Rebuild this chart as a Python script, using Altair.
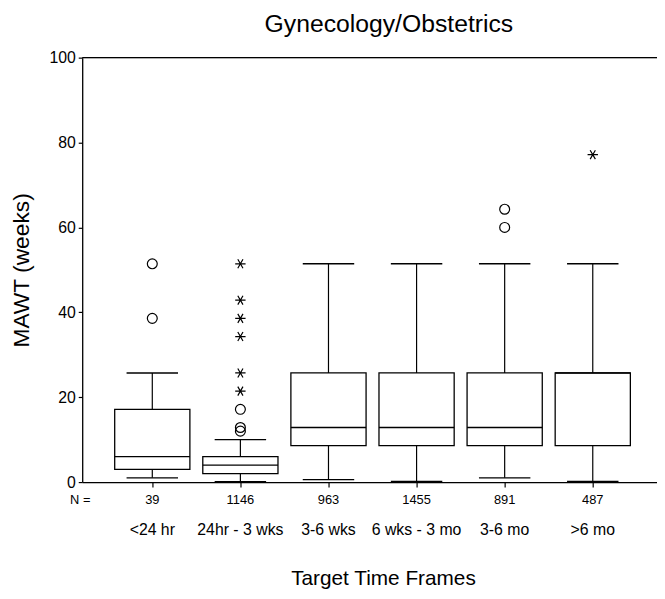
import altair as alt
import pandas as pd

# ---- data ----
categories = ["<24 hr", "24hr - 3 wks", "3-6 wks", "6 wks - 3 mo", "3-6 mo", ">6 mo"]
n_counts = [39, 1146, 963, 1455, 891, 487]
whisker_low = [1.0, 0.1, 0.57, 0.14, 1.0, 0.14]
q1 = [3.0, 2.0, 8.57, 8.57, 8.57, 8.57]
median = [6.0, 4.0, 12.86, 12.86, 12.86, 25.71]
q3 = [17.14, 6.0, 25.71, 25.71, 25.71, 25.71]
whisker_high = [25.71, 10.0, 51.43, 51.43, 51.43, 51.43]

outlier_group = [1, 1, 2, 2, 2, 2, 2, 2, 2, 2, 2, 5, 5, 6]
outlier_value = [38.57, 51.43, 12.0, 12.86, 17.14, 21.43, 25.71, 34.29, 38.57, 42.86, 51.43, 60.0, 64.29, 77.14]
outlier_kind = ["outlier", "outlier", "outlier", "outlier", "outlier", "extreme", "extreme",
                "extreme", "extreme", "extreme", "extreme", "outlier", "outlier", "extreme"]

y_ticks = [0, 20, 40, 60, 80, 100]
chart_title = "Gynecology/Obstetrics"

# ---- tables ----
pos = list(range(1, len(categories) + 1))
boxes = pd.DataFrame({
    "pos": pos, "cat": categories, "n": n_counts,
    "lo": whisker_low, "q1": q1, "med": median, "q3": q3, "hi": whisker_high,
})
outs = pd.DataFrame({"pos": outlier_group, "value": outlier_value, "kind": outlier_kind})

W, H = 581, 429
FONT = "Liberation Sans"
STAR = "M-1,0L1,0M-0.5,-0.866L0.5,0.866M-0.5,0.866L0.5,-0.866"

xs = alt.Scale(domain=[0.2605, 6.673], nice=False, zero=False)
ys = alt.Scale(domain=[0, 100], nice=False, zero=True)

x_axis = alt.Axis(
    values=pos, labels=False, ticks=True, tickSize=5, tickWidth=1.2, tickColor="black",
    domainColor="black", domainWidth=1.3, grid=False,
    title="Target Time Frames", titleFont=FONT, titleFontSize=21, titleFontWeight="normal",
    titleColor="black", titleX=304, titleY=104, titleAlign="center", titleBaseline="alphabetic",
)
y_axis = alt.Axis(
    values=y_ticks, tickSize=4, tickWidth=1.2, tickColor="black", domainColor="black",
    domainWidth=1.3, grid=False, labelFont=FONT, labelFontSize=16, labelColor="black",
    labelPadding=3,
    title="MAWT (weeks)", titleFont=FONT, titleFontSize=23, titleFontWeight="normal",
    titleColor="black", titleX=-61, titleY=214.5, titleAlign="center", titleBaseline="middle",
    titleAngle=-90,
)

X = alt.X("pos:Q", scale=xs, axis=x_axis, title="Target Time Frames")

def Y(field):
    return alt.Y(field, scale=ys, axis=y_axis, title="MAWT (weeks)")

base = alt.Chart(boxes)

box = base.mark_bar(size=76, fill="white", stroke="black", strokeWidth=1.3, orient="vertical").encode(
    x=X, y=Y("q1:Q"), y2="q3:Q",
)
low_whisker = base.mark_rule(color="black", strokeWidth=1.2).encode(x=X, y=Y("lo:Q"), y2="q1:Q")
high_whisker = base.mark_rule(color="black", strokeWidth=1.2).encode(x=X, y=Y("q3:Q"), y2="hi:Q")
med_line = base.mark_tick(orient="horizontal", size=76, thickness=1.4, color="black", opacity=1).encode(x=X, y=Y("med:Q"))
cap_lo = base.mark_tick(orient="horizontal", size=52, thickness=1.4, color="black", opacity=1).encode(x=X, y=Y("lo:Q"))
cap_hi = base.mark_tick(orient="horizontal", size=52, thickness=1.4, color="black", opacity=1).encode(x=X, y=Y("hi:Q"))
points = alt.Chart(outs).mark_point(filled=False, color="black", strokeWidth=1.2, opacity=1).encode(
    x=X,
    y=Y("value:Q"),
    shape=alt.Shape("kind:N", scale=alt.Scale(domain=["outlier", "extreme"], range=["circle", STAR]), legend=None),
    size=alt.Size("kind:N", scale=alt.Scale(domain=["outlier", "extreme"], range=[100, 110]), legend=None),
)
n_text = base.mark_text(font=FONT, fontSize=13, color="black", baseline="alphabetic", align="center").encode(
    x=X, y=alt.value(H + 22), text="n:N"
)
cat_text = base.mark_text(font=FONT, fontSize=16, color="black", baseline="alphabetic", align="center").encode(
    x=X, y=alt.value(H + 53), text="cat:N"
)
n_label = alt.Chart(pd.DataFrame({"t": ["N ="]})).mark_text(
    font=FONT, fontSize=13, color="black", baseline="alphabetic", align="center"
).encode(x=alt.value(-2), y=alt.value(H + 22), text="t:N")
title_text = alt.Chart(pd.DataFrame({"t": [chart_title]})).mark_text(
    font=FONT, fontSize=25, color="black", baseline="alphabetic", align="center"
).encode(x=alt.value(310), y=alt.value(-26), text="t:N")
top_line = alt.Chart(pd.DataFrame({"t": [0]})).mark_rule(color="black", strokeWidth=1.3).encode(
    x=alt.value(0), x2=alt.value(W), y=alt.value(0)
)

chart = alt.layer(
    top_line, low_whisker, high_whisker, box, med_line, cap_lo, cap_hi, points,
    n_text, cat_text, n_label, title_text,
).properties(
    width=W, height=H,
    autosize=alt.AutoSizeParams(type="none"),
    padding={"left": 75, "top": 47, "right": 0, "bottom": 115},
).configure_view(stroke=None).configure(background="white")

chart.save("out.html", embed_options={"renderer": "svg", "actions": False})
